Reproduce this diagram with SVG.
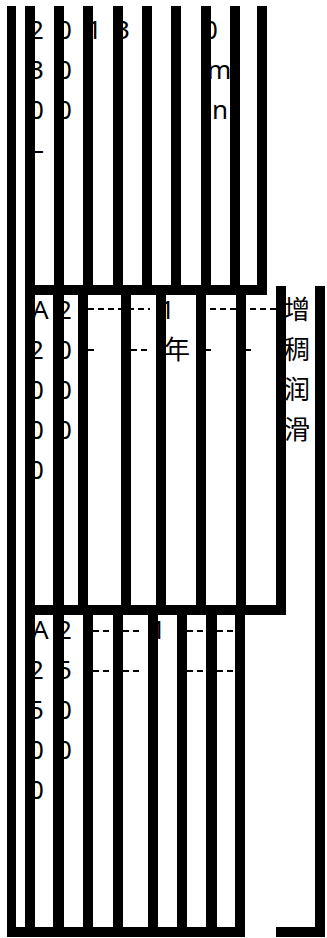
<svg xmlns="http://www.w3.org/2000/svg" width="327" height="938" viewBox="0 0 327 938">
<style>
.t{font-family:"Noto Sans","Noto Sans CJK SC",sans-serif;font-size:26px;fill:#000}
.d{stroke:#000;stroke-width:2;stroke-dasharray:6 4;fill:none}
.b{fill:#000}
</style>
<rect width="327" height="938" fill="#fff"/>
<g id="node-top">
<text class="t" x="29" y="39">2</text>
<text class="t" x="29" y="79">3</text>
<text class="t" x="29" y="119">0</text>
<text class="t" x="31" y="159">–</text>
<text class="t" x="57" y="39">0</text>
<text class="t" x="57" y="79">0</text>
<text class="t" x="57" y="119">0</text>
<text class="t" x="87" y="39">1</text>
<text class="t" x="115" y="39">3</text>
<text class="t" x="203" y="39">0</text>
<text class="t" x="207" y="79">m</text>
<text class="t" x="212" y="119">n</text>
</g>
<g id="node-mid">
<text class="t" x="32" y="319">A</text>
<text class="t" x="29" y="359">2</text>
<text class="t" x="29" y="399">0</text>
<text class="t" x="29" y="439">0</text>
<text class="t" x="29" y="479">0</text>
<text class="t" x="57" y="319">2</text>
<text class="t" x="57" y="359">0</text>
<text class="t" x="57" y="399">0</text>
<text class="t" x="57" y="439">0</text>
<text class="t" x="160" y="319">1</text>
<text class="t" x="164" y="359">年</text>
<text class="t" x="284" y="319">增</text>
<text class="t" x="284" y="359">稠</text>
<text class="t" x="284" y="399">润</text>
<text class="t" x="284" y="439">滑</text>
</g>
<g id="node-bot">
<text class="t" x="32" y="639">A</text>
<text class="t" x="29" y="679">2</text>
<text class="t" x="29" y="719">5</text>
<text class="t" x="29" y="759">0</text>
<text class="t" x="29" y="799">0</text>
<text class="t" x="57" y="639">2</text>
<text class="t" x="57" y="679">5</text>
<text class="t" x="57" y="719">0</text>
<text class="t" x="57" y="759">0</text>
<text class="t" x="151" y="639">1</text>
</g>
<g id="connectors">
<line class="d" x1="88" y1="309" x2="150" y2="309"/>
<line class="d" x1="200" y1="309" x2="278" y2="309"/>
<line class="d" x1="88" y1="350" x2="94" y2="350"/>
<line class="d" x1="131" y1="350" x2="147" y2="350"/>
<line class="d" x1="206" y1="350" x2="211" y2="350"/>
<line class="d" x1="246" y1="350" x2="251" y2="350"/>
<line class="d" x1="93" y1="631" x2="141" y2="631"/>
<line class="d" x1="187" y1="631" x2="234" y2="631"/>
<line class="d" x1="93" y1="671" x2="141" y2="671"/>
<line class="d" x1="187" y1="671" x2="234" y2="671"/>
</g>
<g id="frames">
<rect class="b" x="7" y="6" width="9" height="931"/>
<rect class="b" x="25" y="6" width="10" height="931"/>
<rect class="b" x="54" y="6" width="10" height="289"/>
<rect class="b" x="83" y="6" width="10" height="289"/>
<rect class="b" x="113" y="6" width="10" height="289"/>
<rect class="b" x="142" y="6" width="10" height="289"/>
<rect class="b" x="171" y="6" width="10" height="289"/>
<rect class="b" x="201" y="6" width="10" height="289"/>
<rect class="b" x="230" y="6" width="10" height="289"/>
<rect class="b" x="257" y="6" width="10" height="289"/>
<rect class="b" x="25" y="285" width="242" height="10"/>
<rect class="b" x="53" y="285" width="11" height="330"/>
<rect class="b" x="78" y="285" width="10" height="330"/>
<rect class="b" x="121" y="285" width="10" height="330"/>
<rect class="b" x="156" y="285" width="10" height="330"/>
<rect class="b" x="196" y="285" width="10" height="330"/>
<rect class="b" x="236" y="285" width="10" height="330"/>
<rect class="b" x="276" y="286" width="10" height="329"/>
<rect class="b" x="315" y="286" width="10" height="651"/>
<rect class="b" x="25" y="605" width="261" height="10"/>
<rect class="b" x="53" y="605" width="11" height="332"/>
<rect class="b" x="83" y="605" width="10" height="332"/>
<rect class="b" x="113" y="605" width="10" height="332"/>
<rect class="b" x="148" y="605" width="10" height="332"/>
<rect class="b" x="177" y="605" width="10" height="332"/>
<rect class="b" x="206" y="605" width="11" height="332"/>
<rect class="b" x="235" y="605" width="10" height="332"/>
<rect class="b" x="7" y="927" width="238" height="10"/>
<rect class="b" x="276" y="927" width="49" height="10"/>
</g>
</svg>
